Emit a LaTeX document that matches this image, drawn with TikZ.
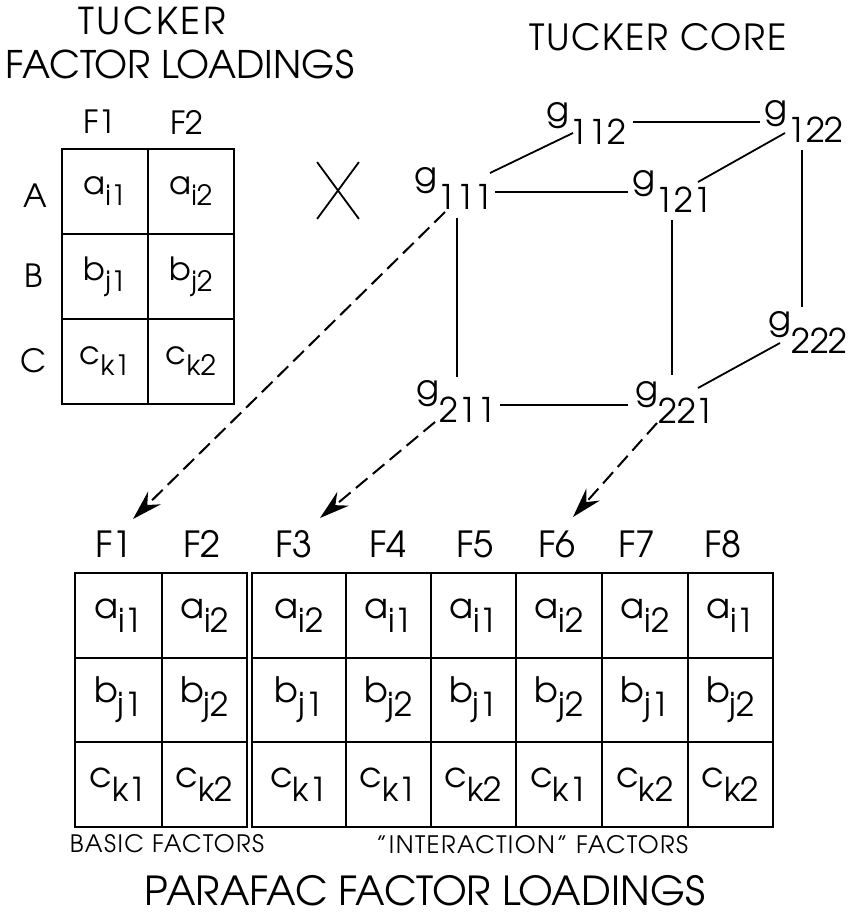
\documentclass[tikz,border=0pt]{standalone}
\usepackage{fontspec}
\setmainfont{TeX Gyre Adventor}
\usetikzlibrary{calc,arrows.meta,shapes.misc}
\newcommand\lowr[2]{\raisebox{-#1}{#2}}
\newcommand\fTa{\fontsize{37}{37}\selectfont\addfontfeature{LetterSpace=7}}
\newcommand\fTb{\fontsize{38}{38}\selectfont}
\newcommand\fTc{\fontsize{36}{36}\selectfont\addfontfeature{LetterSpace=5}}
\newcommand\fTop{\fontsize{32}{32}\selectfont}
\newcommand\fTopSub{\fontsize{28}{28}\selectfont}
\newcommand\fCube{\fontsize{34}{34}\selectfont}
\newcommand\fHdr{\fontsize{36}{36}\selectfont}
\newcommand\fCell{\fontsize{35}{35}\selectfont}
\newcommand\fCellSub{\fontsize{33}{33}\selectfont}
\newcommand\fSmall{\fontsize{24}{24}\selectfont\addfontfeature{LetterSpace=6}}
\newcommand\fBig{\fontsize{40}{40}\selectfont}
\newcommand\gv[1]{g\lowr{23pt}{#1}}
\tikzset{
  txt/.style={inner sep=0pt, anchor=center},
  tcell/.style={draw, line width=2pt, minimum width=86pt, minimum height=85pt,
    inner sep=0pt, anchor=north west, font=\fTop},
  bcell/.style={draw, line width=2pt, minimum height=84.7pt,
    inner sep=0pt, anchor=north west, font=\fCell},
  gnode/.style={inner sep=0pt, anchor=center, font=\fCube},
  edge/.style={line width=1.8pt},
  timesmark/.style={cross out, draw, line width=1.8pt, inner sep=0pt,
    minimum width=40pt, minimum height=55pt},
  dashedarrow/.style={line width=2pt, dash pattern=on 15pt off 7pt,
    -{Stealth[length=30pt, width=18pt, inset=10pt]}},
}
\begin{document}
\begin{tikzpicture}[x=1pt, y=-1pt]
\fill[white] (0,0) rectangle (863,915);
\useasboundingbox (0,0) rectangle (863,915);

% titles
\node[txt, font=\fTa] (tt1) at (152,21) {TUCKER};
\node[txt, font=\fTb] (tt2) at (180,64) {FACTOR LOADINGS};
\node[txt, font=\fTc] (tt3) at (658,37) {TUCKER CORE};

% top table
\node[txt, font=\fTop] (tf1) at (100,122) {F1};
\node[txt, font=\fTop] (tf2) at (187,122) {F2};
\node[txt, font=\fTop] (ra) at (35,196) {A};
\node[txt, font=\fTop] (rb) at (34,276) {B};
\node[txt, font=\fTop] (rc) at (34,361) {C};
\node[tcell] (ta1) at (61,148) {a\lowr{11pt}{\fTopSub i1}};
\node[tcell] (ta2) at (147,148) {a\lowr{11pt}{\fTopSub i2}};
\node[tcell] (tb1) at (61,233) {b\lowr{11pt}{\fTopSub j1}};
\node[tcell] (tb2) at (147,233) {b\lowr{11pt}{\fTopSub j2}};
\node[tcell] (tc1) at (61,318) {c\lowr{11pt}{\fTopSub k1}};
\node[tcell] (tc2) at (147,318) {c\lowr{11pt}{\fTopSub k2}};

% multiplication sign
\node[timesmark] (times) at (338,190.5) {};

% cube
\node[gnode] (g111) at (454,188.5) {\gv{111}};
\node[gnode] (g112) at (586.5,123) {\gv{112}};
\node[gnode] (g122) at (804,121.5) {\gv{122}};
\node[gnode] (g121) at (672.5,191.5) {\gv{121}};
\node[gnode] (g222) at (808,332) {\gv{222}};
\node[gnode] (g211) at (456.5,401.5) {\gv{211}};
\node[gnode] (g221) at (675,402.5) {\gv{221}};

\draw[edge] ($(g112)+(46.5,-1)$) -- ($(g122)+(-44,0.5)$);
\draw[edge] ($(g111)+(36,-15.5)$) -- ($(g112)+(-13.5,10)$);
\draw[edge] ($(g111)+(41,3.5)$) -- ($(g121)+(-44.5,0.5)$);
\draw[edge] ($(g121)+(25.5,-9.5)$) -- ($(g122)+(-19,11.5)$);
\draw[edge] ($(g122)+(-2,28.5)$) -- ($(g222)+(-6,-25)$);
\draw[edge] ($(g111)+(3,29.5)$) -- ($(g211)+(0.5,-24.5)$);
\draw[edge] ($(g121)+(-0.5,28.5)$) -- ($(g221)+(-3,-27.5)$);
\draw[edge] ($(g211)+(43.5,3.5)$) -- ($(g221)+(-47,2.5)$);
\draw[edge] ($(g221)+(23,-14.5)$) -- ($(g222)+(-28,11)$);

% bottom headers
\foreach \i/\x in {1/114,2/202,3/294,4/388,5/475,6/557,7/637,8/723}
  \node[txt, font=\fHdr] (h\i) at (\x,544) {F\i};

% bottom table
\foreach \c/\x/\w/\ai/\bj/\ck in {1/74/87/1/1/1, 2/161/85/2/2/2, 3/251/94/2/1/1,
    4/345/85/1/2/1, 5/430/85/1/1/2, 6/515/86/2/2/1, 7/601/86/2/1/2, 8/687/85/1/2/2}{
  \node[bcell, minimum width=\w pt] (pa\c) at (\x,572) {a\lowr{14pt}{\fCellSub i\ai}};
  \node[bcell, minimum width=\w pt] (pb\c) at (\x,656.7) {b\lowr{14pt}{\fCellSub j\bj}};
  \node[bcell, minimum width=\w pt] (pc\c) at (\x,741.4) {c\lowr{14pt}{\fCellSub k\ck}};
}

% dashed arrows
\draw[dashedarrow] ($(g111)+(-9,23.5)$) -- ($(h1)+(19,-25)$);
\draw[dashedarrow] ($(g211)+(-21.5,20.5)$) -- ($(h3)+(26,-26)$);
\draw[dashedarrow] ($(g221)+(-18,20.5)$) -- ($(h6)+(16,-27)$);

% bottom labels
\node[txt, font=\fSmall] (basic) at (167,844) {BASIC FACTORS};
\node[txt, font=\fSmall] (inter) at (532,845) {"INTERACTION" FACTORS};
\node[txt, font=\fBig] (para) at (425,891) {PARAFAC FACTOR LOADINGS};
\end{tikzpicture}
\end{document}
